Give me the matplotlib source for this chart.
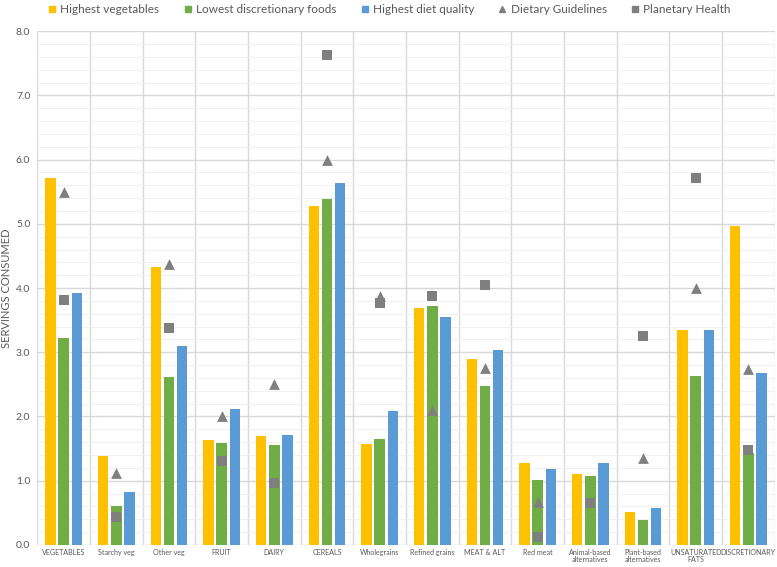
import matplotlib.pyplot as plt
import numpy as np
from matplotlib.lines import Line2D

plt.rcParams['font.family'] = ['Lato', 'DejaVu Sans']

categories = ['VEGETABLES', 'Starchy veg', 'Other veg', 'FRUIT', 'DAIRY', 'CEREALS',
              'Wholegrains', 'Refined grains', 'MEAT & ALT', 'Red meat',
              'Animal-based\nalternatives', 'Plant-based\nalternatives',
              'UNSATURATED\nFATS', 'DISCRETIONARY']
highest_veg = [5.72, 1.39, 4.33, 1.64, 1.70, 5.27, 1.57, 3.69, 2.90, 1.27, 1.10, 0.51, 3.34, 4.96]
lowest_disc = [3.22, 0.61, 2.61, 1.59, 1.55, 5.38, 1.65, 3.72, 2.48, 1.01, 1.08, 0.39, 2.63, 1.43]
highest_dq = [3.92, 0.83, 3.09, 2.11, 1.71, 5.64, 2.08, 3.55, 3.04, 1.18, 1.28, 0.57, 3.35, 2.67]
dietary_guidelines = [5.50, 1.12, 4.37, 2.00, 2.50, 6.00, 3.87, 2.10, 2.75, 0.67, 0.67, 1.35, 4.00, 2.74]
planetary_health = [3.82, 0.43, 3.38, 1.30, 0.97, 7.63, 3.77, 3.87, 4.04, 0.13, 0.65, 3.25, 5.71, 1.48]

c_yel = '#FFC000'
c_grn = '#70AD47'
c_blu = '#5B9BD5'
c_gry = '#7F7F7F'

fig = plt.figure(figsize=(7.77, 5.67), dpi=100)
ax = fig.add_axes([0.048, 0.039, 0.949, 0.906])

x = np.arange(len(categories))
w = 0.2
ax.bar(x - 0.25, highest_veg, w, color=c_yel, zorder=3)
ax.bar(x, lowest_disc, w, color=c_grn, zorder=3)
ax.bar(x + 0.25, highest_dq, w, color=c_blu, zorder=3)
ax.scatter(x, dietary_guidelines, marker='^', s=60, color=c_gry, zorder=4, linewidths=0)
ax.scatter(x, planetary_health, marker='s', s=50, color=c_gry, zorder=4, linewidths=0)

ax.set_xlim(-0.5, len(categories) - 0.5)
ax.set_ylim(0, 8)
ax.set_yticks(np.arange(0, 8.01, 1.0))
ax.set_yticklabels(['%.1f' % v for v in np.arange(0, 8.01, 1.0)], color='#595959', fontsize=7.5)
ax.set_yticks(np.arange(0, 8.01, 0.2), minor=True)
ax.tick_params(axis='y', which='both', length=0, pad=5)
ax.grid(axis='y', which='major', color='#D9D9D9', lw=1, zorder=0)
ax.grid(axis='y', which='minor', color='#F0F0F0', lw=0.8, zorder=0)

ax.set_xticks(x)
ax.set_xticklabels(categories, fontsize=5.1, color='#595959', linespacing=1.05)
ax.tick_params(axis='x', length=0, pad=3)
for b in np.arange(-0.5, len(categories), 1.0):
    ax.axvline(b, color='#D9D9D9', lw=1, zorder=1)

for s in ax.spines.values():
    s.set_visible(False)

ax.set_ylabel('SERVINGS CONSUMED', fontsize=8, color='#595959', labelpad=3)

handles = [
    Line2D([], [], ls='', marker='s', ms=5, color=c_yel),
    Line2D([], [], ls='', marker='s', ms=5, color=c_grn),
    Line2D([], [], ls='', marker='s', ms=5, color=c_blu),
    Line2D([], [], ls='', marker='^', ms=5, color=c_gry),
    Line2D([], [], ls='', marker='s', ms=5, color=c_gry),
]
labels = ['Highest vegetables', 'Lowest discretionary foods', 'Highest diet quality',
          'Dietary Guidelines', 'Planetary Health']
fig.legend(handles, labels, loc='upper center', bbox_to_anchor=(0.5, 1.012), ncol=5,
           frameon=False, fontsize=8.5, handletextpad=0.2, columnspacing=1.9,
           handlelength=1.0, labelcolor='#595959')

fig.savefig('out.png', dpi=100)
